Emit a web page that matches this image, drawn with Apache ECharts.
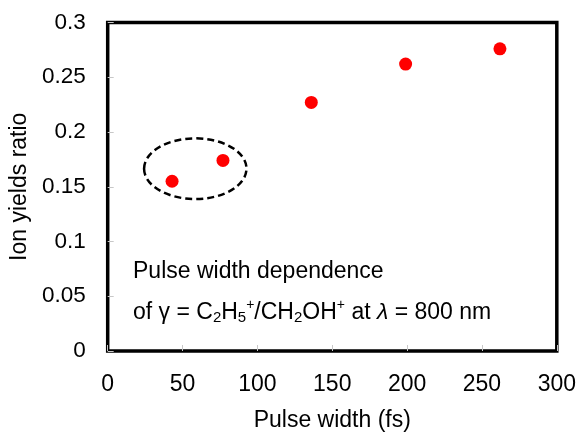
<!DOCTYPE html>
<html>
<head>
<meta charset="utf-8">
<script src="https://cdn.jsdelivr.net/npm/echarts@6/dist/echarts.min.js"></script>
<style>
html, body { margin: 0; padding: 0; background: #fff; }
#main { width: 579px; height: 437px; }
</style>
</head>
<body>
<div id="main"></div>
<script>
// pulse width (fs) and ion yield ratio
var pulseWidth = [43, 77, 136, 199, 262];
var yieldRatio = [0.155, 0.174, 0.227, 0.262, 0.276];
var xTicks = [0, 50, 100, 150, 200, 250, 300];
var yTicks = [0, 0.05, 0.1, 0.15, 0.2, 0.25, 0.3];
// dashed ellipse around the first two points: [centre x, centre y, radius x, radius y]
var ellipseMark = [58.5, 0.1665, 34.2, 0.0277];

var font = 'Liberation Sans, Arial, sans-serif';
var myChart = echarts.init(document.getElementById('main'));

var points = [];
for (var i = 0; i < pulseWidth.length; i++) {
    points.push([pulseWidth[i], yieldRatio[i]]);
}

var option = {
    animation: false,
    backgroundColor: '#fff',
    grid: {
        left: 104, right: 20.5, top: 22.5, bottom: 84.5,
        show: true, borderColor: '#000', borderWidth: 3.5
    },
    xAxis: {
        type: 'value',
        min: xTicks[0], max: xTicks[xTicks.length - 1], interval: 50,
        name: 'Pulse width (fs)', nameLocation: 'middle', nameGap: 58,
        nameTextStyle: { fontFamily: font, fontSize: 23, color: '#000' },
        axisLine: { show: false },
        axisTick: { show: true, inside: true, length: 6, lineStyle: { color: '#c8c8c8', width: 1 } },
        axisLabel: { fontFamily: font, fontSize: 23, color: '#000', margin: 22 },
        splitLine: { show: false }
    },
    yAxis: {
        type: 'value',
        min: yTicks[0], max: yTicks[yTicks.length - 1], interval: 0.05,
        name: 'Ion yields ratio', nameLocation: 'middle', nameGap: 62, nameRotate: 90,
        nameTextStyle: { fontFamily: font, fontSize: 23, color: '#000' },
        axisLine: { show: false },
        axisTick: { show: true, inside: true, length: 6, lineStyle: { color: '#c8c8c8', width: 1 } },
        axisLabel: {
            fontFamily: font, fontSize: 22.5, color: '#000', margin: 22,
            formatter: function (v) { return String(+v.toFixed(2)); }
        },
        splitLine: { show: false }
    },
    series: [{
        type: 'scatter',
        data: points,
        symbol: 'circle',
        symbolSize: 13,
        itemStyle: { color: '#ff0000', opacity: 1 }
    }, {
        // dashed ellipse
        type: 'custom',
        silent: true,
        clip: false,
        data: [[ellipseMark[0], ellipseMark[1]]],
        renderItem: function (params, api) {
            var c = api.coord([api.value(0), api.value(1)]);
            var s = api.size([ellipseMark[2], ellipseMark[3]]);
            return {
                type: 'ellipse',
                shape: { cx: c[0], cy: c[1], rx: s[0], ry: s[1] },
                style: { fill: null, stroke: '#000', lineWidth: 2.5, lineDash: [7, 4] }
            };
        }
    }],
    graphic: [{
        type: 'text',
        left: 133,
        top: 251,
        style: {
            text: 'Pulse width dependence\n' +
                'of γ = C{sub|2}H{sub|5}{sup|+}/CH{sub|2}OH{sup|+} at {it|λ} = 800 nm',
            fontFamily: font,
            fontSize: 23,
            lineHeight: 41,
            fill: '#000',
            rich: {
                sub: { fontFamily: font, fontSize: 15, padding: [10, 0, 0, 0], fill: '#000' },
                sup: { fontFamily: font, fontSize: 14, padding: [0, 0, 15, 0], fill: '#000' },
                it: { fontFamily: font, fontSize: 23, fontStyle: 'italic', fill: '#000' }
            }
        }
    }]
};

myChart.setOption(option);
</script>
</body>
</html>
